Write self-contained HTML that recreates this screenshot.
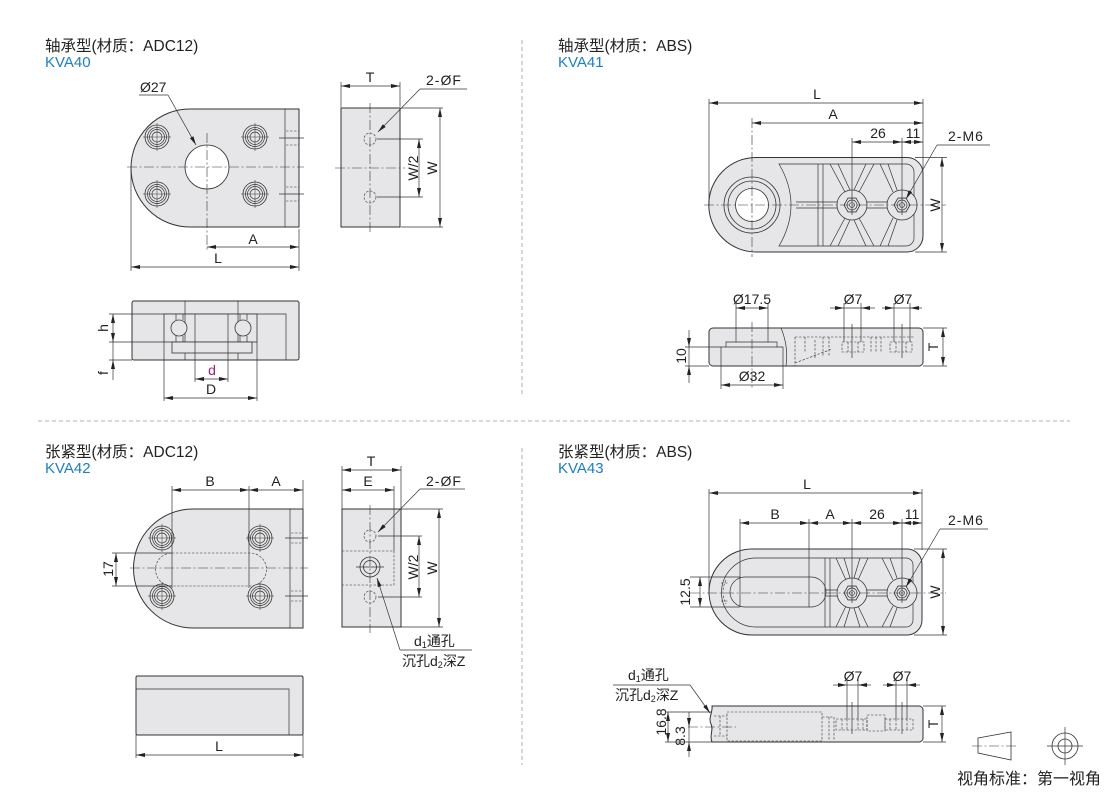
<!DOCTYPE html>
<html><head><meta charset="utf-8">
<style>
html,body{margin:0;padding:0;background:#fff}
svg{display:block}
.t{font-family:"Liberation Sans","Noto Sans CJK SC",sans-serif;fill:#222;font-size:14px}
.ti{font-family:"Liberation Sans","Noto Sans CJK SC",sans-serif;fill:#222;font-size:15.5px}
.bl{font-family:"Liberation Sans",sans-serif;fill:#1a7fc7;font-size:15px}
.sp{letter-spacing:1px}
.dm{stroke:#333;stroke-width:.7;marker-start:url(#a);marker-end:url(#a);fill:none}
.ae{stroke:#333;stroke-width:.7;marker-end:url(#a);fill:none}
.ln{stroke:#333;stroke-width:.7;fill:none}
.ol{fill:#e6e6e8;stroke:#333;stroke-width:1}
.cl{stroke:#333;stroke-width:.6;stroke-dasharray:10 2.5 2 2.5;fill:none}
.hd{stroke:#333;stroke-width:.6;stroke-dasharray:2.5 1.5;fill:none}
.dv{stroke:#999;stroke-width:.8;stroke-dasharray:4 3;fill:none}
</style></head><body>
<svg width="1110" height="794" viewBox="0 0 1110 794" xmlns="http://www.w3.org/2000/svg">
<defs>
<marker id="a" viewBox="0 0 9 4" refX="9" refY="2" markerWidth="9" markerHeight="4" markerUnits="userSpaceOnUse" orient="auto-start-reverse"><path d="M0,0L9,2L0,4z" fill="#222"/></marker>
<g id="bh">
<circle r="12" fill="#e6e6e8" stroke="#333" stroke-width=".8"/>
<circle r="9.5" fill="none" stroke="#333" stroke-width=".7"/>
<circle r="7.5" fill="none" stroke="#333" stroke-width=".7"/>
<circle r="5" fill="none" stroke="#333" stroke-width=".7"/>
<path d="M-14,0H14M0,-14V14" stroke="#333" stroke-width=".5"/>
</g>
<g id="bs">
<circle r="15" fill="#e6e6e8" stroke="#333" stroke-width=".8"/>
<polygon points="8,0 4,6.93 -4,6.93 -8,0 -4,-6.93 4,-6.93" fill="none" stroke="#333" stroke-width=".8"/>
<circle r="5" fill="none" stroke="#333" stroke-width=".7"/>
<circle r="2.5" fill="none" stroke="#333" stroke-width=".6"/>
</g>
</defs>

<!-- dividers -->
<line class="dv" x1="522" y1="40" x2="522" y2="395"/>
<line class="dv" x1="522" y1="448" x2="522" y2="765"/>
<line class="dv" x1="38" y1="421" x2="1070" y2="421"/>

<!-- titles -->
<text class="ti" x="45" y="51">轴承型(材质：ADC12)</text>
<text class="bl" x="45" y="67">KVA40</text>
<text class="ti" x="558" y="51">轴承型(材质：ABS)</text>
<text class="bl" x="558" y="67">KVA41</text>
<text class="ti" x="45" y="457">张紧型(材质：ADC12)</text>
<text class="bl" x="45" y="473">KVA42</text>
<text class="ti" x="558" y="457">张紧型(材质：ABS)</text>
<text class="bl" x="558" y="473">KVA43</text>

<!-- ============ Q1 KVA40 front ============ -->
<path class="ol" d="M190,109H299V227H190A59,59 0 0 1 190,109Z"/>
<line class="ln" x1="285" y1="109" x2="285" y2="227"/>
<circle cx="207" cy="167" r="22" fill="#fff" stroke="#333" stroke-width=".8"/>
<use href="#bh" x="157" y="137"/>
<use href="#bh" x="255" y="137"/>
<use href="#bh" x="157" y="194"/>
<use href="#bh" x="255" y="194"/>
<line class="cl" x1="127" y1="167" x2="304" y2="167"/>
<line class="cl" x1="207" y1="133" x2="207" y2="250"/>
<path class="hd" d="M286,131H299M286,145H299M286,187H299M286,201H299"/>
<path class="ln" d="M279,138H304M279,194H304"/>
<line class="ln" x1="131" y1="170" x2="131" y2="271"/>
<line class="ln" x1="299" y1="229" x2="299" y2="271"/>
<line class="dm" x1="207" y1="247" x2="299" y2="247"/>
<line class="dm" x1="131" y1="267" x2="299" y2="267"/>
<text class="t" x="253" y="244" text-anchor="middle">A</text>
<text class="t" x="218" y="263" text-anchor="middle">L</text>
<text class="t" x="140" y="92">Ø27</text>
<line class="ln" x1="139" y1="95" x2="168" y2="95"/>
<line class="ae" x1="168" y1="95" x2="196" y2="145"/>

<!-- Q1 side -->
<rect class="ol" x="341" y="108" width="59" height="119"/>
<line class="cl" x1="370" y1="103" x2="370" y2="232"/>
<line class="cl" x1="335" y1="168" x2="405" y2="168"/>
<circle class="hd" cx="370" cy="139" r="6"/>
<circle class="hd" cx="370" cy="197" r="6"/>
<line class="ln" x1="341" y1="82" x2="341" y2="107"/>
<line class="ln" x1="400" y1="82" x2="400" y2="107"/>
<line class="dm" x1="341" y1="86" x2="400" y2="86"/>
<text class="t" x="370" y="82" text-anchor="middle">T</text>
<text class="t sp" x="426" y="85">2-ØF</text>
<line class="ln" x1="420" y1="89" x2="467" y2="89"/>
<line class="ae" x1="420" y1="89" x2="378" y2="132"/>
<path class="ln" d="M377,139H423M377,197H423M401,108H443M401,227H443"/>
<line class="dm" x1="419" y1="139" x2="419" y2="197"/>
<line class="dm" x1="440" y1="108" x2="440" y2="227"/>
<text class="t" transform="translate(418,168) rotate(-90)" text-anchor="middle">W/2</text>
<text class="t" transform="translate(437,168) rotate(-90)" text-anchor="middle">W</text>

<!-- Q1 bottom -->
<rect class="ol" x="132" y="301" width="167" height="59" rx="2"/>
<path class="ln" d="M132,314H286V360"/>
<path class="ln" d="M185,301V360M238,301V360"/>
<rect x="164" y="314" width="93" height="28" fill="#e6e6e8" stroke="#333" stroke-width=".8"/>
<rect x="172" y="342" width="80" height="11" fill="#e6e6e8" stroke="#333" stroke-width=".8"/>
<path class="ln" d="M185,314V342M238,314V342"/>
<path class="ln" d="M176,314V320M183,314V320M176,336V342M183,336V342M240,314V320M247,314V320M240,336V342M247,336V342"/>
<circle cx="179" cy="328" r="8" fill="#e6e6e8" stroke="#333" stroke-width=".8"/>
<circle cx="243" cy="328" r="8" fill="#e6e6e8" stroke="#333" stroke-width=".8"/>
<path class="ln" d="M195,314V382M228,314V382M164,342V401M257,342V401"/>
<path class="ln" d="M109,314H132M109,342H164M109,360H132"/>
<line class="dm" x1="113" y1="314" x2="113" y2="342"/>
<line class="ln" x1="113" y1="342" x2="113" y2="360"/>
<line class="ae" x1="113" y1="380" x2="113" y2="360"/>
<text class="t" transform="translate(108,328) rotate(-90)" text-anchor="middle">h</text>
<text class="t" transform="translate(108,373) rotate(-90)" text-anchor="middle">f</text>
<line class="dm" x1="195" y1="379" x2="228" y2="379"/>
<text class="t" x="212" y="375" text-anchor="middle" style="fill:#9b1f7a">d</text>
<line class="dm" x1="164" y1="398" x2="257" y2="398"/>
<text class="t" x="211" y="394" text-anchor="middle">D</text>

<!-- ============ Q2 KVA41 top ============ -->
<path class="ol" d="M756,157.5H907A16,16 0 0 1 923,173.5V236A16,16 0 0 1 907,252H756A47.25,47.25 0 0 1 756,157.5Z"/>
<circle cx="752" cy="205" r="28" fill="none" stroke="#333" stroke-width=".8"/>
<circle cx="752" cy="205" r="24" fill="none" stroke="#333" stroke-width=".8"/>
<circle cx="752" cy="205" r="16.5" fill="#fff" stroke="#333" stroke-width=".8"/>
<path class="ln" d="M779,164H906A8,8 0 0 1 914,172V238A8,8 0 0 1 906,246H779Q803,205 779,164Z"/>
<path class="ln" d="M818,164V246M823,164V246"/>
<path class="ln" d="M830,164L845,192M838,164L850,190M874,164L859,192M866,164L854,190M830,246L845,218M838,246L850,220M874,246L859,218M866,246L854,220M880,164L893,192M888,164L897,190M880,246L893,218M888,246L897,220"/>
<path class="ln" d="M796,202H837M796,208H837M867,202H887M867,208H887"/>
<use href="#bs" x="852" y="205"/>
<use href="#bs" x="902" y="205"/>
<line class="cl" x1="704" y1="205" x2="946" y2="205"/>
<line class="cl" x1="752" y1="118" x2="752" y2="257"/>
<path class="ln" d="M852,138V215M902,138V215M709,99V205M923,99V170"/>
<line class="dm" x1="709" y1="103" x2="923" y2="103"/>
<line class="dm" x1="752" y1="123" x2="923" y2="123"/>
<line class="dm" x1="852" y1="142" x2="902" y2="142"/>
<line class="dm" x1="902" y1="142" x2="923" y2="142"/>
<text class="t" x="817" y="99" text-anchor="middle">L</text>
<text class="t" x="833" y="119" text-anchor="middle">A</text>
<text class="t" x="878" y="138" text-anchor="middle">26</text>
<text class="t" x="913" y="138" text-anchor="middle">11</text>
<text class="t sp" x="948" y="141">2-M6</text>
<line class="ln" x1="937" y1="145" x2="990" y2="145"/>
<line class="ae" x1="937" y1="145" x2="906" y2="199"/>
<path class="ln" d="M915,157.5H947M915,252H947"/>
<line class="dm" x1="942" y1="157.5" x2="942" y2="252"/>
<text class="t" transform="translate(940,205) rotate(-90)" text-anchor="middle">W</text>

<!-- Q2 side -->
<rect class="ol" x="709" y="328" width="214" height="38" rx="4"/>
<path class="ln" d="M721,366V347H726V342H777V347H783V366"/>
<path class="ln" d="M726,347H777"/>
<path class="ln" d="M781,328C786,340 788,352 786,366"/>
<path class="ln" d="M736,303V342M768,303V342"/>
<line class="cl" x1="752" y1="322" x2="752" y2="390"/>
<path class="hd" d="M795,337H914M795,337V366M795,363L832,349M805,337V352M815,340V358M823,337V357M829,337V357M871,337V352M876,337V352M881,337V352"/>
<rect class="hd" x="842" y="342" width="22" height="10"/>
<rect class="hd" x="890" y="342" width="22" height="10"/>
<path class="hd" d="M848,342V352M858,342V352M896,342V352M906,342V352"/>
<path class="ln" d="M852,324V358M902,324V358"/>
<path class="ln" d="M844,303V342M861,303V342M894,303V342M910,303V342"/>
<line class="ae" x1="830" y1="308" x2="844" y2="308"/>
<line class="ae" x1="875" y1="308" x2="861" y2="308"/>
<line class="ln" x1="844" y1="308" x2="861" y2="308"/>
<line class="ae" x1="882" y1="308" x2="894" y2="308"/>
<line class="ae" x1="922" y1="308" x2="910" y2="308"/>
<line class="ln" x1="894" y1="308" x2="910" y2="308"/>
<text class="t" x="853" y="304" text-anchor="middle">Ø7</text>
<text class="t" x="903" y="304" text-anchor="middle">Ø7</text>
<line class="dm" x1="736" y1="308" x2="768" y2="308"/>
<text class="t" x="752" y="304" text-anchor="middle">Ø17.5</text>
<path class="ln" d="M721,366V389M783,366V389"/>
<line class="dm" x1="721" y1="385" x2="783" y2="385"/>
<text class="t" x="752" y="381" text-anchor="middle">Ø32</text>
<path class="ln" d="M685,347H721M685,366H709"/>
<line class="ae" x1="689" y1="330" x2="689" y2="347"/>
<line class="ae" x1="689" y1="383" x2="689" y2="366"/>
<line class="ln" x1="689" y1="347" x2="689" y2="366"/>
<text class="t" transform="translate(686,356) rotate(-90)" text-anchor="middle">10</text>
<path class="ln" d="M923,328H947M923,366H947"/>
<line class="dm" x1="943" y1="328" x2="943" y2="366"/>
<text class="t" transform="translate(938,347) rotate(-90)" text-anchor="middle">T</text>

<!-- ============ Q3 KVA42 front ============ -->
<path class="ol" d="M193,509H303V628H193A59.5,59.5 0 0 1 193,509Z"/>
<line class="ln" x1="290" y1="509" x2="290" y2="628"/>
<path class="hd" d="M172,553H250A16.5,16.5 0 0 1 250,586H172A16.5,16.5 0 0 1 172,553Z"/>
<use href="#bh" x="162" y="538"/>
<use href="#bh" x="260" y="538"/>
<use href="#bh" x="162" y="596"/>
<use href="#bh" x="260" y="596"/>
<line class="cl" x1="130" y1="568" x2="308" y2="568"/>
<path class="ln" d="M172,486V588M249,486V588M303,480V509"/>
<path class="hd" d="M291,533H302M291,543H302M291,591H302M291,601H302"/>
<path class="ln" d="M285,538H308M285,596H308"/>
<path class="ln" d="M112,553H172M112,586H172"/>
<line class="dm" x1="116" y1="553" x2="116" y2="586"/>
<text class="t" transform="translate(113,569) rotate(-90)" text-anchor="middle">17</text>
<line class="dm" x1="172" y1="490" x2="249" y2="490"/>
<line class="dm" x1="249" y1="490" x2="303" y2="490"/>
<text class="t" x="210" y="486" text-anchor="middle">B</text>
<text class="t" x="276" y="486" text-anchor="middle">A</text>

<!-- Q3 side -->
<rect class="ol" x="342" y="509" width="59" height="118"/>
<rect class="hd" x="342" y="551" width="52" height="34"/>
<line class="cl" x1="370" y1="505" x2="370" y2="633"/>
<circle cx="370" cy="567" r="10" fill="none" stroke="#333" stroke-width=".8"/>
<circle cx="370" cy="567" r="6.5" fill="none" stroke="#333" stroke-width=".8"/>
<path class="ln" d="M356,567H384"/>
<circle class="hd" cx="370" cy="536" r="6"/>
<circle class="hd" cx="370" cy="597" r="6"/>
<path class="ln" d="M342,466V509M401,466V509M394,486V551"/>
<line class="dm" x1="342" y1="470" x2="401" y2="470"/>
<line class="dm" x1="342" y1="490" x2="394" y2="490"/>
<text class="t" x="371" y="466" text-anchor="middle">T</text>
<text class="t" x="368" y="486" text-anchor="middle">E</text>
<text class="t sp" x="426" y="486">2-ØF</text>
<line class="ln" x1="420" y1="489" x2="465" y2="489"/>
<line class="ae" x1="420" y1="489" x2="378" y2="532"/>
<path class="ln" d="M378,536H422M378,597H422M401,509H443M401,627H443"/>
<line class="dm" x1="419" y1="536" x2="419" y2="597"/>
<line class="dm" x1="439" y1="509" x2="439" y2="627"/>
<text class="t" transform="translate(418,567) rotate(-90)" text-anchor="middle">W/2</text>
<text class="t" transform="translate(437,568) rotate(-90)" text-anchor="middle">W</text>
<line class="ae" x1="400" y1="650" x2="377" y2="578"/>
<line class="ln" x1="400" y1="650" x2="472" y2="650"/>
<text class="t" x="414" y="646">d<tspan font-size="9" dy="2">1</tspan><tspan dy="-2">通孔</tspan></text>
<text class="t" x="402" y="666">沉孔d<tspan font-size="9" dy="2">2</tspan><tspan dy="-2">深Z</tspan></text>

<!-- Q3 bottom -->
<rect class="ol" x="136" y="676" width="167" height="59" rx="1.5"/>
<path class="ln" d="M136,689H289V735"/>
<path class="ln" d="M136,735V758M303,735V758"/>
<line class="dm" x1="136" y1="755" x2="303" y2="755"/>
<text class="t" x="219" y="751" text-anchor="middle">L</text>

<!-- ============ Q4 KVA43 top ============ -->
<path class="ol" d="M752,549H907A15,15 0 0 1 922,564V620A15,15 0 0 1 907,635H752A43,43 0 0 1 752,549Z"/>
<path class="ln" d="M756,558H906A7,7 0 0 1 913,565V620A7,7 0 0 1 906,627H756A34.5,34.5 0 0 1 756,558Z"/>
<path class="ln" d="M745,577H811A15,15 0 0 1 811,607H745A15,15 0 0 1 745,577Z" fill="#e6e6e8"/>
<path class="hd" d="M726,580Q720,592 726,604M721,583H728M721,601H728"/>
<path class="ln" d="M825,558V627M830,558V627"/>
<path class="ln" d="M836,558L846,580M844,558L850,578M868,558L858,580M860,558L854,578M836,627L846,606M844,627L850,608M868,627L858,606M860,627L854,608M882,558L893,580M890,558L897,578M882,627L893,606M890,627L897,608"/>
<path class="ln" d="M826,590H837M826,596H837M867,590H887M867,596H887"/>
<use href="#bs" x="852" y="593"/>
<use href="#bs" x="902" y="593"/>
<line class="cl" x1="690" y1="593" x2="946" y2="593"/>
<path class="ln" d="M740,519V607M809,519V607M852,519V603M902,519V603M709,489V592M922,489V550"/>
<path class="ln" d="M690,577H740M690,607H740"/>
<line class="dm" x1="700" y1="577" x2="700" y2="607"/>
<text class="t" transform="translate(690,592) rotate(-90)" text-anchor="middle">12.5</text>
<line class="dm" x1="709" y1="493" x2="922" y2="493"/>
<line class="dm" x1="740" y1="523" x2="809" y2="523"/>
<line class="dm" x1="809" y1="523" x2="852" y2="523"/>
<line class="dm" x1="852" y1="523" x2="902" y2="523"/>
<line class="dm" x1="902" y1="523" x2="922" y2="523"/>
<text class="t" x="807" y="489" text-anchor="middle">L</text>
<text class="t" x="775" y="519" text-anchor="middle">B</text>
<text class="t" x="830" y="519" text-anchor="middle">A</text>
<text class="t" x="877" y="519" text-anchor="middle">26</text>
<text class="t" x="912" y="519" text-anchor="middle">11</text>
<text class="t sp" x="948" y="525">2-M6</text>
<line class="ln" x1="940" y1="529" x2="988" y2="529"/>
<line class="ae" x1="940" y1="529" x2="906" y2="587"/>
<path class="ln" d="M914,549H947M914,635H947"/>
<line class="dm" x1="943" y1="549" x2="943" y2="635"/>
<text class="t" transform="translate(940,592) rotate(-90)" text-anchor="middle">W</text>

<!-- Q4 side -->
<path class="ol" d="M712,706H919A4,4 0 0 1 923,710V738A4,4 0 0 1 919,742H712C709,735 714,730 711,724C708,718 713,712 712,706Z"/>
<rect class="hd" x="727" y="712" width="95" height="29"/>
<path class="hd" d="M714,716H727M714,736H727M720,716V736M822,717H834V741M829,717V741"/>
<rect class="hd" x="836" y="719" width="31" height="11"/>
<rect class="hd" x="885" y="719" width="28" height="11"/>
<rect class="hd" x="867" y="715" width="18" height="16"/>
<path class="hd" d="M842,719V730M847,719V730M858,719V730M863,719V730M890,719V730M896,719V730M907,719V730"/>
<line class="cl" x1="688" y1="727" x2="736" y2="727"/>
<path class="ln" d="M852,702V734M902,702V734"/>
<path class="ln" d="M847,680V719M858,680V719M896,680V719M907,680V719"/>
<line class="ae" x1="833" y1="685" x2="847" y2="685"/>
<line class="ae" x1="871" y1="685" x2="858" y2="685"/>
<line class="ln" x1="847" y1="685" x2="858" y2="685"/>
<line class="ae" x1="883" y1="685" x2="896" y2="685"/>
<line class="ae" x1="920" y1="685" x2="907" y2="685"/>
<line class="ln" x1="896" y1="685" x2="907" y2="685"/>
<text class="t" x="853" y="681" text-anchor="middle">Ø7</text>
<text class="t" x="902" y="681" text-anchor="middle">Ø7</text>
<path class="ln" d="M923,706H946M923,742H946"/>
<line class="dm" x1="942" y1="706" x2="942" y2="742"/>
<text class="t" transform="translate(938,724) rotate(-90)" text-anchor="middle">T</text>
<path class="ln" d="M665,712H712M665,742H712"/>
<line class="dm" x1="668" y1="712" x2="668" y2="742"/>
<line class="ae" x1="689" y1="712" x2="689" y2="727"/>
<line class="ae" x1="689" y1="757" x2="689" y2="742"/>
<line class="ln" x1="689" y1="727" x2="689" y2="742"/>
<text class="t" transform="translate(666,722) rotate(-90)" text-anchor="middle">16.8</text>
<text class="t" transform="translate(685,736) rotate(-90)" text-anchor="middle">8.3</text>
<text class="t" x="628" y="680">d<tspan font-size="9" dy="2">1</tspan><tspan dy="-2">通孔</tspan></text>
<text class="t" x="615" y="700">沉孔d<tspan font-size="9" dy="2">2</tspan><tspan dy="-2">深Z</tspan></text>
<line class="ln" x1="613" y1="685" x2="690" y2="685"/>
<line class="ae" x1="690" y1="685" x2="710" y2="713"/>

<!-- view symbol -->
<polygon points="978,738 1011,732 1011,760 978,753" fill="none" stroke="#333" stroke-width=".8"/>
<line class="cl" x1="972" y1="746" x2="1017" y2="746"/>
<circle cx="1065" cy="746" r="13" fill="none" stroke="#333" stroke-width=".8"/>
<circle cx="1065" cy="746" r="7" fill="none" stroke="#333" stroke-width=".8"/>
<path class="ln" d="M1047,746H1083M1065,727V765"/>
<text class="ti" x="957" y="784" style="font-size:16px">视角标准：第一视角</text>
</svg>
</body></html>
